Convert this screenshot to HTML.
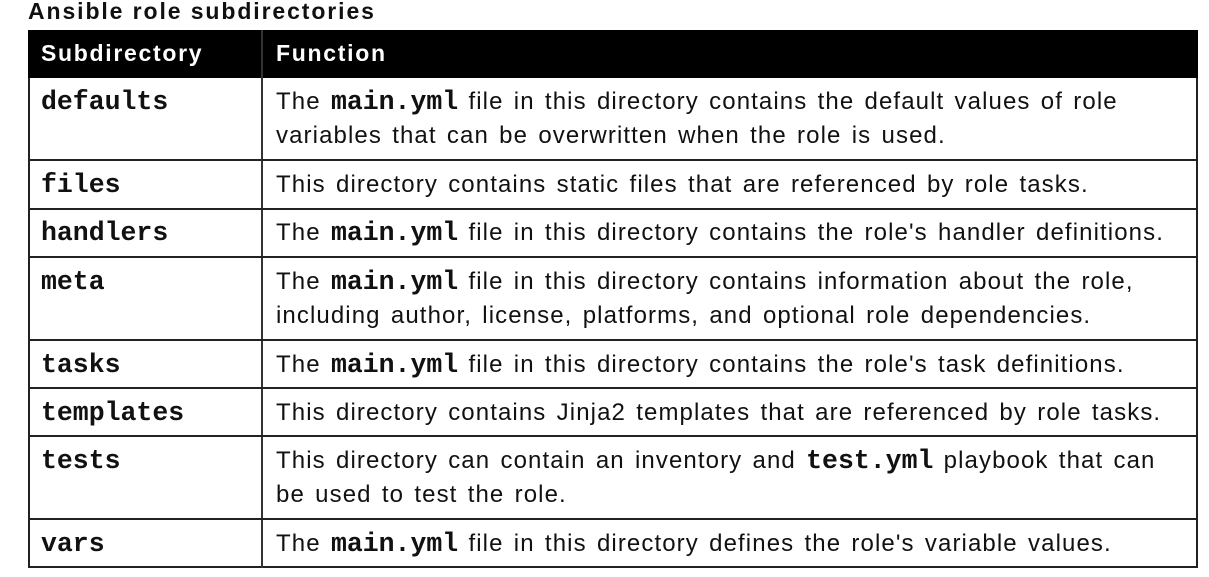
<!DOCTYPE html>
<html><head><style>
body{margin:0;width:1209px;height:577px;background:#fff;position:relative;font-family:"Liberation Sans",sans-serif;color:#111;overflow:hidden}
.t{position:absolute;left:28px;top:-2px;font-size:23px;font-weight:bold;letter-spacing:1.9px}
.tbl{position:absolute;left:28px;top:30px;width:1170px;height:538px;border:2px solid #222;box-sizing:border-box}
.hd{position:absolute;left:28px;top:30px;width:1170px;height:48px;background:#000}
.hd span{position:absolute;top:10px;color:#fff;font-weight:bold;font-size:23px;letter-spacing:1.7px}
.h{position:absolute;left:28px;width:1170px;height:2px;background:#222}
.v{position:absolute;left:261px;top:30px;width:2px;height:538px;background:#333}
.c1{position:absolute;left:41px;font-family:"Liberation Mono",monospace;font-weight:bold;font-size:26.5px}
.c2{position:absolute;left:276px;font-size:24px;line-height:34px;width:920px;letter-spacing:1.1px;word-spacing:2.5px;white-space:nowrap}
.c2 b{font-family:"Liberation Mono",monospace;font-size:26.5px;line-height:0;letter-spacing:0;word-spacing:0}
</style></head><body>
<div class="t">Ansible role subdirectories</div>
<div class="tbl"></div>
<div class="hd"><span style="left:13px">Subdirectory</span><span style="left:248px">Function</span></div>
<div class="v"></div>
<div class="h" style="top:159px"></div>
<div class="h" style="top:208px"></div>
<div class="h" style="top:256px"></div>
<div class="h" style="top:339px"></div>
<div class="h" style="top:387px"></div>
<div class="h" style="top:435px"></div>
<div class="h" style="top:518px"></div>

<div class="c1" style="top:87px">defaults</div>
<div class="c2" style="top:85px">The <b>main.yml</b> file in this directory contains the default values of role<br>variables that can be overwritten when the role is used.</div>
<div class="c1" style="top:170px">files</div>
<div class="c2" style="top:168px">This directory contains static files that are referenced by role tasks.</div>
<div class="c1" style="top:218px">handlers</div>
<div class="c2" style="top:216px">The <b>main.yml</b> file in this directory contains the role's handler definitions.</div>
<div class="c1" style="top:267px">meta</div>
<div class="c2" style="top:265px">The <b>main.yml</b> file in this directory contains information about the role,<br>including author, license, platforms, and optional role dependencies.</div>
<div class="c1" style="top:350px">tasks</div>
<div class="c2" style="top:348px">The <b>main.yml</b> file in this directory contains the role's task definitions.</div>
<div class="c1" style="top:398px">templates</div>
<div class="c2" style="top:396px">This directory contains Jinja2 templates that are referenced by role tasks.</div>
<div class="c1" style="top:446px">tests</div>
<div class="c2" style="top:444px">This directory can contain an inventory and <b>test.yml</b> playbook that can<br>be used to test the role.</div>
<div class="c1" style="top:529px">vars</div>
<div class="c2" style="top:527px">The <b>main.yml</b> file in this directory defines the role's variable values.</div>
</body></html>
